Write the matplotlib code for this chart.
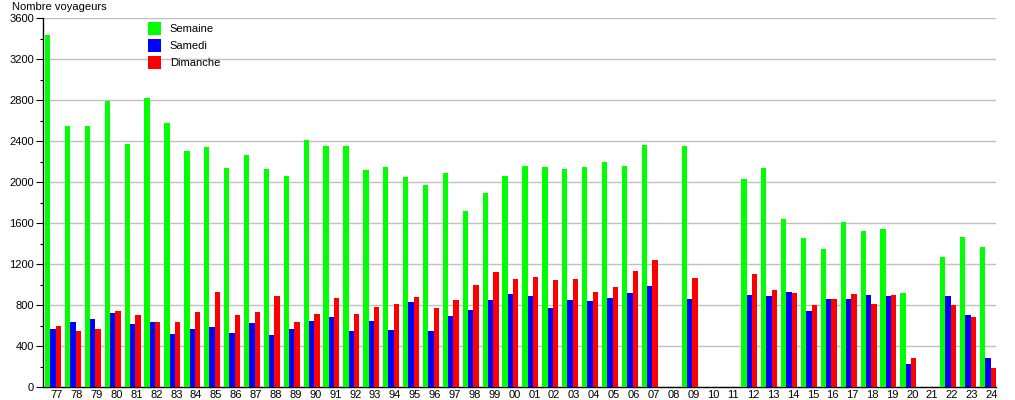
import numpy as np
import matplotlib
matplotlib.use('Agg')
import matplotlib.pyplot as plt
from matplotlib.ticker import MultipleLocator

plt.rcParams['font.family'] = ['Liberation Sans', 'DejaVu Sans']

annees = [f'{a % 100:02d}' for a in range(1977, 2025)]

# valeurs (None = pas de donnée)
semaine = [3430, 2545, 2545, 2795, 2367, 2815, 2572, 2299, 2338, 2134, 2260,
           2124, 2056, 2406, 2348, 2348, 2114, 2144, 2046, 1969, 2085, 1716,
           1891, 2056, 2153, 2144, 2124, 2144, 2192, 2153, 2358, None, 2348,
           None, None, 2027, 2134, 1638, 1453, 1346, 1609, 1521, 1540, 918,
           None, 1268, 1463, 1365]
samedi = [568, 639, 665, 726, 616, 636, 519, 568, 587, 529, 626,
          509, 568, 645, 684, 548, 645, 558, 830, 548, 694, 752,
          850, 908, 889, 772, 850, 840, 869, 918, 986, None, 859,
          None, None, 898, 889, 927, 743, 859, 859, 898, 889, 227,
          None, 889, 704, 285]
dimanche = [597, 548, 568, 743, 704, 636, 636, 733, 927, 704, 733,
            889, 636, 713, 869, 713, 782, 811, 879, 772, 850, 996,
            1122, 1054, 1073, 1044, 1054, 927, 976, 1132, 1239, None, 1064,
            None, None, 1103, 947, 918, 801, 859, 908, 811, 898, 285,
            None, 801, 684, 188]

series = [('Semaine', semaine, '#00ff00'),
          ('Samedi', samedi, '#0000ff'),
          ('Dimanche', dimanche, '#ff0000')]

fig = plt.figure(figsize=(10.15, 4.0), dpi=100)
ax = fig.add_axes([43 / 1015, 13 / 400, 953 / 1015, 369 / 400])

x = np.arange(len(annees))
w = 0.268
for k, (nom, vals, couleur) in enumerate(series):
    h = np.array([np.nan if v is None else v for v in vals], dtype=float)
    ax.bar(x + k * w, h, width=w, align='edge', color=couleur,
           linewidth=0, label=nom, zorder=3)

ax.set_xlim(-0.1, 47.81)
ax.set_ylim(0, 3600)
ax.yaxis.set_major_locator(MultipleLocator(400))
ax.yaxis.set_minor_locator(MultipleLocator(200))
ax.grid(axis='y', color='#c0c0c0', linewidth=1, zorder=0)

ax.set_xticks(x + 0.6)
ax.set_xticklabels(annees)
ax.tick_params(axis='x', length=0, pad=2, labelsize=8)
ax.tick_params(axis='y', which='major', length=5, width=0.8, pad=1.5, labelsize=8)
ax.tick_params(axis='y', which='minor', length=2, width=0.8)

for s in ['top', 'right']:
    ax.spines[s].set_visible(False)
for s in ['left', 'bottom']:
    ax.spines[s].set_linewidth(1)
    ax.spines[s].set_color('black')

fig.text(12 / 1015, 1 - 7 / 400, 'Nombre voyageurs', fontsize=8,
         ha='left', va='center')

ax.legend(loc='upper left', bbox_to_anchor=(148 / 1015, 1 - 22 / 400),
          bbox_transform=fig.transFigure, frameon=False, fontsize=8,
          handlelength=1.17, handleheight=1.42, handletextpad=0.8,
          labelspacing=0.36, borderpad=0, borderaxespad=0)

fig.savefig('out.png', dpi=100)
